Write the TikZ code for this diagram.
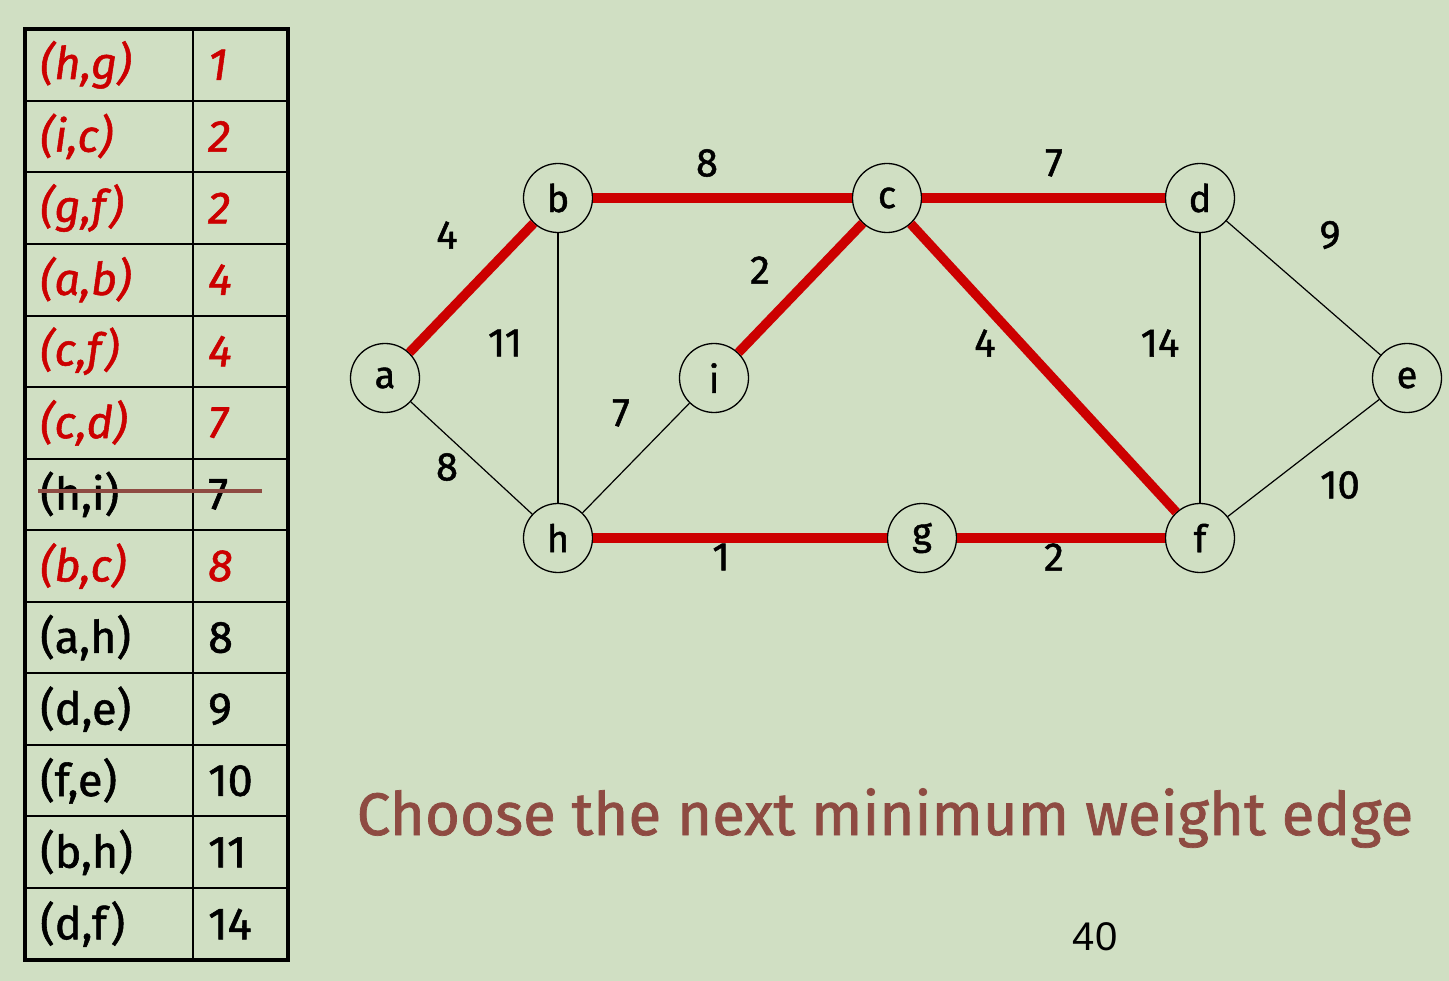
\documentclass[tikz,border=0pt]{standalone}
\usepackage{fontspec}
\setmainfont{Fira Sans}[FakeBold=1.2]
\newfontfamily\pagefont{Liberation Sans}
\usetikzlibrary{positioning}
\definecolor{slidebg}{HTML}{D0DFC3}
\definecolor{mstred}{HTML}{CC0000}
\definecolor{notebrown}{HTML}{8E4B42}

\begin{document}
\begin{tikzpicture}[x=1pt, y=-1pt,
  vertex/.style={circle, draw, line width=1.3pt, minimum size=69pt, inner sep=0pt,
                 font=\fontsize{38}{40}\selectfont},
  tree/.style={draw=mstred, line width=9.5pt},
  other/.style={draw, line width=1.2pt},
  wt/.style={font=\fontsize{40}{42}\selectfont},
  cell/.style={anchor=west, inner sep=0pt, font=\fontsize{45}{47}\selectfont},
  pick/.style={cell, text=mstred, font=\fontsize{45}{47}\selectfont\itshape},
  left/.style={cell},
  struck/.style={cell},
]
  % Slide background and fixed page size.
  \fill[slidebg] (0,0) rectangle (1449,981);
  \useasboundingbox (0,0) rectangle (1449,981);

  % Sorted edge list.
  \foreach \y in {101,172,244,316,387,459,530,602,673,745,816,888}
    \draw[line width=2pt] (25,\y) -- (288,\y);
  \draw[line width=2pt] (193,29) -- (193,960);
  \draw[line width=4pt] (25,29) rectangle (288,960);
  \foreach \e/\w/\sty [count=\r] in {{(h,g)}/1/pick, {(i,c)}/2/pick, {(g,f)}/2/pick,
      {(a,b)}/4/pick, {(c,f)}/4/pick, {(c,d)}/7/pick, {(h,i)}/7/struck,
      {(b,c)}/8/pick, {(a,h)}/8/left, {(d,e)}/9/left, {(f,e)}/10/left,
      {(b,h)}/11/left, {(d,f)}/14/left} {
    \node[\sty] (pair-\r) at (40,{29+71.6*(\r-0.5)}) {\e};
    \node[\sty] (cost-\r) at (208,{29+71.6*(\r-0.5)}) {\w};
  }
  \draw[notebrown, line width=4pt] (38,491) coordinate (strike-a) -- (262,491) coordinate (strike-b);

  % Graph vertices.
  \node[vertex] (a) at (385,378) {a};
  \node[vertex] (b) at (558,198) {b};
  \node[vertex] (c) at (887,198) {c};
  \node[vertex] (d) at (1200,198) {d};
  \node[vertex] (e) at (1407,378) {e};
  \node[vertex] (i) at (714,378) {i};
  \node[vertex] (h) at (558,538) {h};
  \node[vertex] (g) at (922,538) {g};
  \node[vertex] (f) at (1200,538) {f};

  % Edges chosen so far, then the rest.
  \draw[tree] (a) -- (b);
  \draw[tree] (b) -- (c);
  \draw[tree] (c) -- (d);
  \draw[tree] (i) -- (c);
  \draw[tree] (c) -- (f);
  \draw[tree] (h) -- (g);
  \draw[tree] (g) -- (f);
  \draw[other] (b) -- (h);
  \draw[other] (a) -- (h);
  \draw[other] (h) -- (i);
  \draw[other] (d) -- (f);
  \draw[other] (d) -- (e);
  \draw[other] (f) -- (e);

  % Weights.
  \node[wt] (w-ab) at (447,235) {4};
  \node[wt] (w-bc) at (707,163) {8};
  \node[wt] (w-cd) at (1054,163) {7};
  \node[wt] (w-de) at (1330,235) {9};
  \node[wt] (w-ic) at (760,270) {2};
  \node[wt] (w-bh) at (505,343) {11};
  \node[wt] (w-cf) at (985,343) {4};
  \node[wt] (w-df) at (1160,343) {14};
  \node[wt] (w-hi) at (621,413) {7};
  \node[wt] (w-ah) at (447,467) {8};
  \node[wt] (w-fe) at (1340,485) {10};
  \node[wt] (w-hg) at (721,557) {1};
  \node[wt] (w-gf) at (1054,557) {2};

  \node[text=notebrown, font=\fontsize{60}{62}\selectfont] (caption) at (885,818)
    {Choose the next minimum weight edge};
  \node[font=\pagefont\fontsize{40}{42}\selectfont] (pagenum) at (1095,937) {40};
\end{tikzpicture}
\end{document}
